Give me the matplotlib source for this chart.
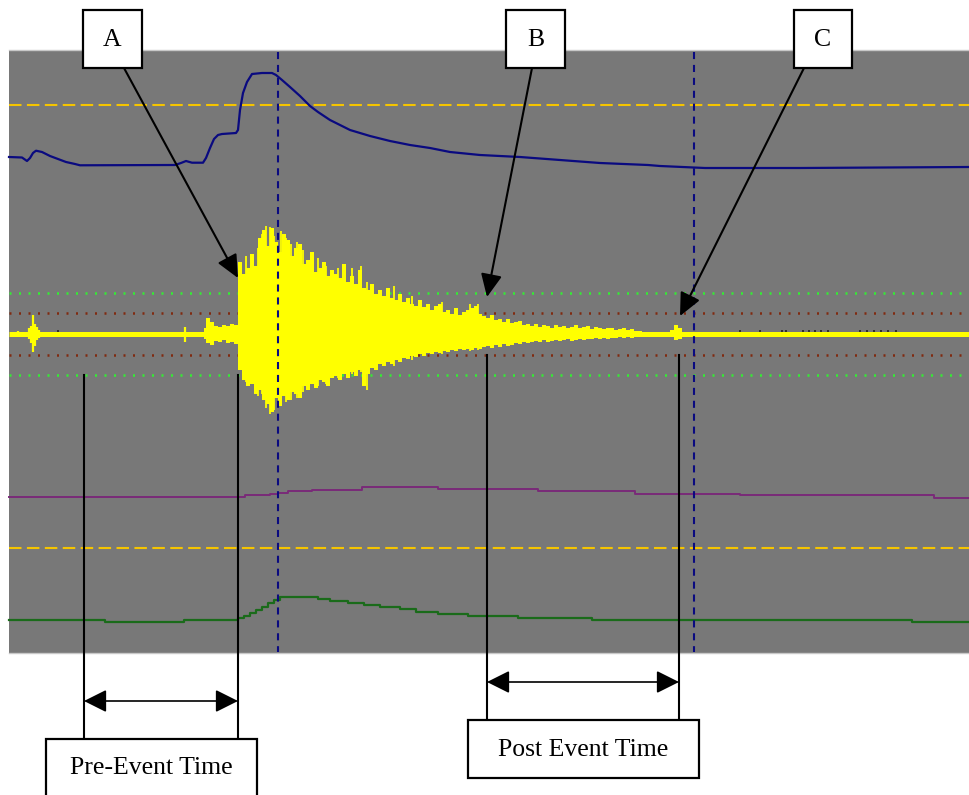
import numpy as np
import matplotlib.pyplot as plt
from matplotlib.patches import Rectangle

# everything is in image pixel units (x right, y down)
W, H = 969, 795
BASE = 334  # yellow trace baseline

# navy trace (top channel)
navy_x = [9, 22, 27, 30, 33, 36, 42, 50, 58, 66, 75, 80, 175, 181, 186, 192, 203, 206,
          210, 214, 218, 222, 236, 238, 240, 243, 247, 252, 262, 272, 276, 282, 290, 300,
          310, 318, 330, 350, 370, 390, 410, 430, 450, 480, 520, 560, 600, 648, 660,
          705, 800, 969]
navy_y = [157, 157.5, 161, 158, 153, 150.7, 152, 156, 159, 162, 164, 165.3, 165, 163,
          161, 162.7, 162.7, 158, 148, 139, 135, 134, 133, 130, 110, 93, 82, 74, 73, 73,
          75, 80, 87, 96, 106, 112, 120, 130, 136, 141, 145, 148, 152, 155, 157, 160,
          163, 165, 166, 168, 168, 167]

# magenta trace
mag_x = [9, 245, 270, 278, 288, 312, 362, 438, 538, 635, 740, 934, 969]
mag_y = [497.3, 495, 494, 492.7, 491, 489.5, 487.3, 489, 491, 493.5, 495, 497.7, 497.7]

# green trace (bottom channel)
grn_x = [9, 105, 184, 238, 244, 250, 256, 262, 268, 274, 280, 316, 318, 330, 348, 364,
         380, 400, 416, 438, 468, 518, 592, 912, 969]
grn_y = [620, 622, 620, 618, 616, 613, 610, 607, 603, 600, 597.3, 597, 598.7, 600.5,
         602.5, 604.7, 606.5, 609, 611.5, 613.5, 615.7, 617.7, 619.7, 621.7, 621.7]

# yellow waveform body: amplitude above / below baseline every 4 px from x=204
wave_up = [6, 16, 12, 8, 7, 9, 8, 10, 9,
           72, 60, 66, 80, 68, 96, 104, 88, 106, 92,
           82, 100, 94, 78, 86, 90, 70, 74, 82, 62,
           66, 72, 58, 64, 60, 56, 70, 52, 58, 50,
           64, 46, 44, 50, 40, 44, 38, 46, 36, 34,
           40, 32, 36, 30, 28, 34, 27, 30, 24, 28,
           30, 22, 24, 20, 26, 19, 22, 24, 26, 28,
           20,
           18, 16, 19, 14, 15, 12, 15, 11, 12, 13,
           9, 10, 8, 10, 7, 9, 8, 6, 9, 7,
           8, 6, 7, 9, 6, 7, 8, 5, 7, 6,
           5, 6, 6, 4, 5, 6, 4, 5, 3, 3,
           1, 0, 0, 0, 0, 0, 0, 4, 9, 6, 0]
wave_dn = [5, 9, 11, 7, 8, 6, 9, 8, 10,
           36, 46, 52, 50, 60, 56, 66, 70, 78, 64,
           72, 62, 66, 58, 60, 64, 52, 56, 50, 54,
           46, 48, 52, 44, 42, 46, 40, 44, 38, 42,
           36, 52, 40, 34, 36, 30, 32, 28, 30, 26,
           28, 24, 25, 22, 23, 20, 22, 19, 20, 18,
           19, 17, 18, 16, 17, 15, 16, 15, 16, 14,
           15,
           13, 12, 14, 11, 13, 10, 12, 11, 9, 10,
           8, 9, 8, 7, 8, 6, 8, 7, 6, 7,
           6, 5, 7, 6, 5, 6, 5, 5, 4, 5,
           4, 5, 4, 4, 3, 4, 3, 4, 3, 3,
           1, 0, 0, 0, 0, 0, 0, 3, 6, 5, 0]
wave_x = np.arange(204, 204 + 4 * len(wave_up), 4)

# thin spikes sticking out of the body
spike_x = [246, 258, 262, 266, 270, 274, 281, 286, 291, 297, 303, 318, 326, 338, 352,
           361, 367, 394, 412, 442, 470, 478]
spike_up = [78, 86, 100, 108, 107, 98, 103, 96, 90, 92, 84, 76, 68, 66, 66, 68, 52, 48,
            38, 32, 30, 30]
spike_dn = [48, 62, 60, 74, 80, 76, 70, 68, 66, 64, 58, 52, 50, 44, 40, 38, 56, 32, 26,
            20, 17, 16]

# isolated pre-event blips
blip_x = [18, 29, 31, 33, 35, 37, 39, 185]
blip_up = [3, 6, 8, 19, 10, 7, 4, 7]
blip_dn = [3, 5, 9, 18, 12, 6, 4, 8]
# small dark marks on the baseline
mark_x = [58, 740, 760, 782, 786, 803, 809, 815, 821, 828, 860, 867, 874, 881, 888, 896]

# reference lines
gold_y = [105, 548]
green_dot_y = [293, 375]
brown_dot_y = [313, 355]
cursor_x = [278, 694]

# callouts: label, box (x0, y0, x1, y1), arrow start, arrow tip
callouts = [
    ("A", (83, 10, 142, 68), (124, 68), (238, 278)),
    ("B", (506, 10, 565, 68), (532, 68), (487, 297)),
    ("C", (794, 10, 852, 68), (804, 68), (680, 316)),
]
# time spans: label, left x, right x, line tops, arrow y, box
spans = [
    ("Pre-Event Time", 84, 238, (375, 375), 701, (46, 739, 257, 800)),
    ("Post Event Time", 487, 679, (355, 355), 682, (468, 720, 699, 778)),
]

fig = plt.figure(figsize=(W / 100, H / 100), dpi=100)
ax = fig.add_axes([0, 0, 1, 1])
ax.set_xlim(0, W)
ax.set_ylim(H, 0)
ax.axis('off')

# gray scope panel
ax.add_patch(Rectangle((9, 50), W - 9, 603, facecolor='#787878', edgecolor='none', zorder=0))
ax.plot([9, W], [50, 50], color='#c8c8c8', lw=1, zorder=1)
ax.plot([9, W], [653, 653], color='#c8c8c8', lw=1, zorder=1)

for y in green_dot_y:
    ax.plot([9, W], [y, y], color='#33ee33', lw=1.8, ls=(0, (0.8, 3)), zorder=2)
for y in brown_dot_y:
    ax.plot([9, W], [y, y], color='#802a10', lw=1.8, ls=(0, (0.8, 3)), zorder=2)
for y in gold_y:
    ax.plot([9, W], [y, y], color='#f5c400', lw=1.5, ls=(0, (6, 2.6)), zorder=2)

ax.plot(navy_x, navy_y, color='#0a0a80', lw=1.6, zorder=3)
ax.plot(mag_x, mag_y, color='#7a2a78', lw=1.4, drawstyle='steps-post', zorder=3)
ax.plot(grn_x, grn_y, color='#1a6b1a', lw=1.6, drawstyle='steps-post', zorder=3)

# yellow waveform
ax.plot([9, W], [BASE, BASE], color='#ffff00', lw=3.6, zorder=3, solid_capstyle='butt')
ax.fill_between(wave_x, BASE - np.array(wave_up), BASE + np.array(wave_dn),
                step='mid', color='#ffff00', lw=0, zorder=3)
ax.vlines(spike_x, BASE - np.array(spike_up), BASE + np.array(spike_dn),
          color='#ffff00', lw=1.3, zorder=3)
ax.vlines(blip_x, BASE - np.array(blip_up), BASE + np.array(blip_dn),
          color='#ffff00', lw=1.6, zorder=3)
ax.vlines(mark_x, BASE - 4, BASE - 2, color='#202020', lw=1.2, zorder=4)

for x in cursor_x:
    ax.plot([x, x], [52, 652], color='#0a0a80', lw=1.5, ls=(0, (3.4, 2.8)), zorder=4)

# callout boxes with arrows
for label, (x0, y0, x1, y1), start, tip in callouts:
    ax.add_patch(Rectangle((x0, y0), x1 - x0, y1 - y0, facecolor='white',
                           edgecolor='black', lw=1.6, zorder=6))
    ax.text((x0 + x1) / 2, (y0 + y1) / 2 + 1, label, ha='center', va='center',
            family='Liberation Serif', fontsize=18.5, zorder=7)
    ax.annotate('', xy=tip, xytext=start, zorder=5,
                arrowprops=dict(arrowstyle='-|>,head_length=14,head_width=6.5',
                                mutation_scale=1, lw=1.5, color='black',
                                shrinkA=0, shrinkB=0))

# time spans
for label, xl, xr, (tl, tr), ay, (x0, y0, x1, y1) in spans:
    ax.plot([xl, xl], [tl, y0], color='black', lw=1.5, zorder=5)
    ax.plot([xr, xr], [tr, y0], color='black', lw=1.5, zorder=5)
    ax.annotate('', xy=(xr, ay), xytext=(xl, ay), zorder=5,
                arrowprops=dict(arrowstyle='<|-|>,head_length=14,head_width=7',
                                mutation_scale=1, lw=1.2, color='black',
                                shrinkA=0, shrinkB=0))
    ax.add_patch(Rectangle((x0, y0), x1 - x0, y1 - y0, facecolor='white',
                           edgecolor='black', lw=1.6, zorder=6))
    ax.text((x0 + x1) / 2, (y0 + min(y1, H)) / 2 + 1, label, ha='center', va='center',
            family='Liberation Serif', fontsize=18.5, zorder=7)

fig.savefig('out.png', dpi=100)
